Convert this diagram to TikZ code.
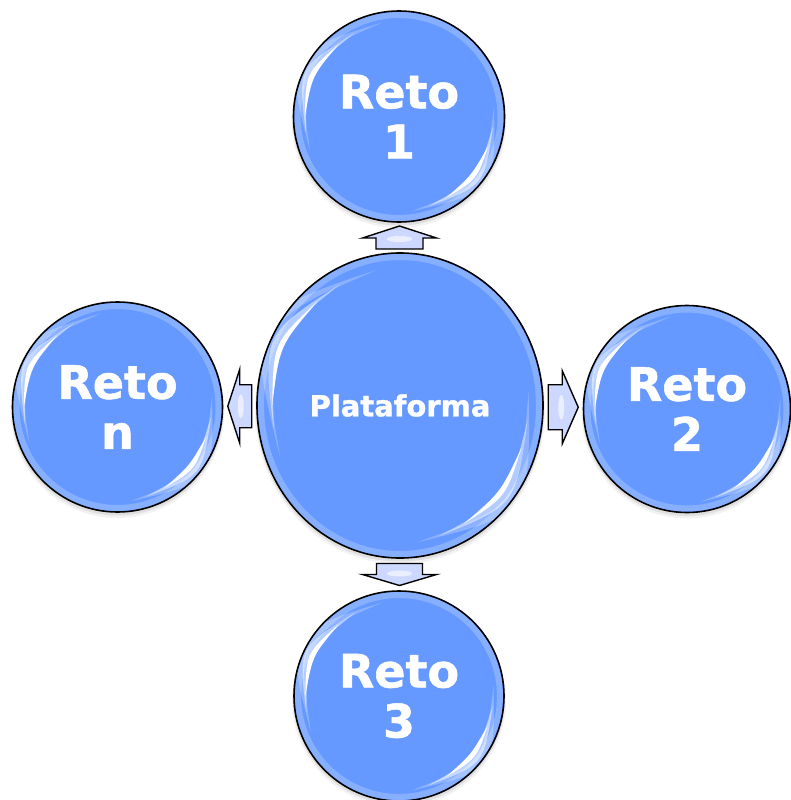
\documentclass[tikz,border=0pt]{standalone}
\usepackage{fontspec}
\setmainfont{DejaVu Sans}[BoldFeatures={FakeBold=1.2}]
\usetikzlibrary{shapes.geometric,calc}
\definecolor{bub}{HTML}{6699FF}
\definecolor{arr}{HTML}{CCD8FF}
\tikzset{
  bubble/.style={circle, draw=black, line width=1.6pt, fill=bub, text=white,
    font=\bfseries\fontsize{46}{50}\selectfont, align=center, inner sep=0pt},
  hub/.style={ellipse, draw=black, line width=1.6pt, fill=bub, text=white,
    font=\bfseries\fontsize{29}{32}\selectfont, inner sep=0pt},
  blockarrow/.style={draw=black, line width=1.4pt, fill=arr, line join=miter},
}
\newcommand{\shadowof}[3]{%
  \begin{scope}[shift={(#1)}, x=1pt, y=1pt]
    \fill[black, opacity=0.05] (0,-4) ellipse[x radius=#2+2, y radius=#3+2];
    \fill[black, opacity=0.08] (0,-2.5) ellipse[x radius=#2+1, y radius=#3+1];
  \end{scope}}
% lens-shaped glint: start angle, end angle, radius, thickness, opacity
\newcommand{\lens}[5]{%
  \pgfmathsetmacro\lr{#3}%
  \pgfmathsetmacro\lm{(#1+#2)/2}%
  \pgfmathsetmacro\lo{\lr*(2-cos((#2-(#1))/2))}%
  \pgfmathsetmacro\li{\lo-2*#4}%
  \fill[white, opacity=#5] (#1:\lr) .. controls (\lm:\lo) .. (#2:\lr)
     .. controls (\lm:\li) .. cycle;}
\newcommand{\glossof}[3]{%
  \begin{scope}[shift={(#1)}, x=1pt, y=1pt]
    \clip (0,0) ellipse[x radius=#2, y radius=#3];
    \draw[white, opacity=0.22, line width=6pt] (0,0) ellipse[x radius=#2-3, y radius=#3-3];
    \begin{scope}[yscale=#3/#2]
      \pgfmathsetmacro\gR{#2*0.9}
      \lens{100}{202}{\gR+1.5}{7}{0.25}
      \lens{118}{190}{\gR+0.5}{5}{0.5}
      \lens{130}{180}{\gR}{3.4}{1}
      \lens{-82}{6}{\gR+1.5}{7}{0.25}
      \lens{-72}{-6}{\gR+0.5}{5}{0.5}
      \lens{-60}{-18}{\gR}{3.4}{1}
    \end{scope}
  \end{scope}}
\newcommand{\blockarr}[6]{%
  \begin{scope}[shift={(#1)}, rotate=#2, x=1pt, y=1pt]
    \pgfmathsetmacro\hl{#3/2}\pgfmathsetmacro\hb{#3/2-#4}
    \pgfmathsetmacro\hw{#5/2}\pgfmathsetmacro\hs{#6/2}
    \draw[blockarrow] (-\hl,-\hs) -- (\hb,-\hs) -- (\hb,-\hw) -- (\hl,0)
      -- (\hb,\hw) -- (\hb,\hs) -- (-\hl,\hs) -- cycle;
    \fill[white, opacity=0.6] (\hb-1,0) ellipse[x radius=3, y radius=\hs*0.55];
  \end{scope}}
\begin{document}
\begin{tikzpicture}[x=1pt, y=-1pt]
  \fill[white] (0,0) rectangle (791,800);
  \useasboundingbox (0,0) rectangle (791,800);
  \coordinate (cp) at (400,405.5);
  \coordinate (c1) at (399,116.5);
  \coordinate (c2) at (687,409);
  \coordinate (c3) at (399,696);
  \coordinate (cn) at (117.5,407);
  \shadowof{cp}{143}{152.5}
  \shadowof{c1}{105.5}{105.5}
  \shadowof{c2}{103.5}{103.5}
  \shadowof{c3}{105}{105}
  \shadowof{cn}{105}{105}
  \node[hub, minimum width=286pt, minimum height=305pt] (p) at (cp) {Plataforma};
  \node[bubble, minimum size=211pt] (r1) at (c1) {Reto\\1};
  \node[bubble, minimum size=207pt] (r2) at (c2) {Reto\\2};
  \node[bubble, minimum size=210pt] (r3) at (c3) {Reto\\3};
  \node[bubble, minimum size=210pt] (rn) at (cn) {Reto\\n};
  \glossof{cp}{142}{151.5}
  \glossof{c1}{104.5}{104.5}
  \glossof{c2}{102.5}{102.5}
  \glossof{c3}{104}{104}
  \glossof{cn}{104}{104}
  \coordinate (a1) at ($(r1.south)!0.5!(p.north)$);
  \coordinate (a2) at ($(p.east)!0.5!(r2.west)$);
  \coordinate (a3) at ($(p.south)!0.5!(r3.north)$);
  \coordinate (an) at ($(p.west)!0.5!(rn.east)$);
  \blockarr{a1}{90}{23}{12}{74}{47}
  \blockarr{a2}{0}{30}{16}{73}{45}
  \blockarr{a3}{-90}{22}{11}{74}{46}
  \blockarr{an}{180}{24}{12}{74}{43}
\end{tikzpicture}
\end{document}
